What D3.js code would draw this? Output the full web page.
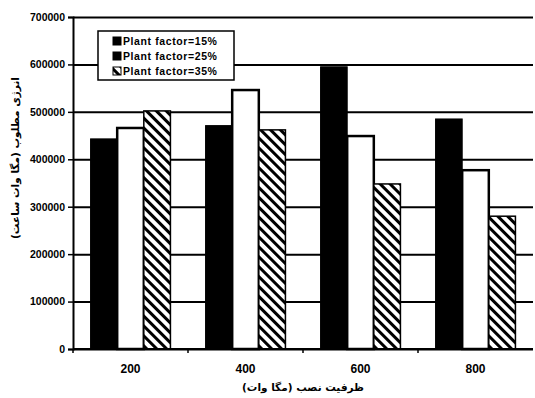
<!DOCTYPE html>
<html>
<head>
<meta charset="utf-8">
<script src="https://cdn.jsdelivr.net/npm/d3@7"></script>
<style>
  body { margin: 0; background: #fff; }
  svg { display: block; }
  .fa { font-family: "DejaVu Sans", sans-serif; font-weight: bold; direction: rtl; unicode-bidi: embed; }
</style>
</head>
<body>
<svg id="chart" width="535" height="398"></svg>
<script>
// Installed capacity (MW) and annual energy (MWh) for three plant factors
const categories = ["200", "400", "600", "800"];
const seriesNames = ["Plant factor=15%", "Plant factor=25%", "Plant factor=35%"];
const pf15 = [443000, 471000, 595000, 485000];
const pf25 = [466000, 546000, 449000, 377000];
const pf35 = [502000, 462000, 348000, 280000];
const yTicks = [0, 100000, 200000, 300000, 400000, 500000, 600000, 700000];
const xTitle = "ظرفیت نصب (مگا وات)";
const yTitle = "انرژی مطلوب (مگا وات ساعت)";

const seriesValues = [pf15, pf25, pf35];
const rows = categories.map((c, i) => ({
  cat: c,
  vals: seriesNames.map((s, k) => ({ key: s, k, value: seriesValues[k][i] }))
}));

const svg = d3.select("#chart");
const plotLeft = 73, plotRight = 533, plotTop = 17, plotBottom = 349;

const x0 = d3.scaleBand().domain(categories).range([plotLeft, plotRight]).paddingInner(0).paddingOuter(0);
const x1 = d3.scaleBand().domain(seriesNames).range([0, x0.bandwidth()]).paddingInner(0).paddingOuter(0.66);
const y = d3.scaleLinear().domain([0, 700000]).range([plotBottom, plotTop]);

// diagonal hatch for the 35% series
const defs = svg.append("defs");
const pat = defs.append("pattern")
  .attr("id", "hatch").attr("patternUnits", "userSpaceOnUse")
  .attr("width", 7).attr("height", 7)
  .attr("patternTransform", "rotate(-45)");
pat.append("rect").attr("width", 7).attr("height", 7).attr("fill", "#fff");
pat.append("rect").attr("x", 0).attr("y", 0).attr("width", 3).attr("height", 7).attr("fill", "#000");

// horizontal gridlines
svg.append("g")
  .attr("transform", `translate(${plotLeft},0)`)
  .call(d3.axisLeft(y).tickValues(yTicks).tickSize(-(plotRight - plotLeft)).tickFormat(""))
  .call(g => g.select(".domain").remove())
  .call(g => g.selectAll("line").attr("stroke", "#000").attr("stroke-width", 2));

const fills = ["#000", "#fff", "url(#hatch)"];
const strokeW = [1, 2.5, 1.5];

// bars
svg.append("g").selectAll("g")
  .data(rows).join("g")
  .attr("transform", d => `translate(${x0(d.cat)},0)`)
  .selectAll("rect")
  .data(d => d.vals).join("rect")
  .attr("x", d => x1(d.key))
  .attr("y", d => y(d.value))
  .attr("width", x1.bandwidth())
  .attr("height", d => y(0) - y(d.value))
  .attr("fill", d => fills[d.k])
  .attr("stroke", "#000")
  .attr("stroke-width", d => strokeW[d.k]);

// y axis
svg.append("g")
  .attr("transform", `translate(${plotLeft},0)`)
  .call(d3.axisLeft(y).tickValues(yTicks).tickSize(5).tickPadding(3).tickFormat(d3.format("d")))
  .call(g => g.select(".domain").attr("stroke", "#000").attr("stroke-width", 2))
  .call(g => g.selectAll("line").attr("stroke", "#000").attr("stroke-width", 1.5))
  .call(g => g.selectAll("text")
    .attr("font-family", "Liberation Sans, Arial, sans-serif")
    .attr("font-weight", "bold").attr("font-size", 10.5).attr("fill", "#000"));

// x axis: ticks sit between categories
const xAxis = svg.append("g").attr("transform", `translate(0,${plotBottom})`);
xAxis.append("line").attr("x1", plotLeft).attr("x2", plotRight).attr("stroke", "#000").attr("stroke-width", 2);
xAxis.selectAll(".sep")
  .data(categories).join("line")
  .attr("class", "sep")
  .attr("x1", d => x0(d)).attr("x2", d => x0(d))
  .attr("y1", 0).attr("y2", 4)
  .attr("stroke", "#000").attr("stroke-width", 1.5);
xAxis.selectAll("text")
  .data(categories).join("text")
  .attr("x", d => x0(d) + x0.bandwidth() / 2)
  .attr("y", 24)
  .attr("text-anchor", "middle")
  .attr("font-family", "Liberation Sans, Arial, sans-serif")
  .attr("font-weight", "bold").attr("font-size", 12)
  .text(d => d);

// axis titles
svg.append("text").attr("class", "fa")
  .attr("x", 303).attr("y", 391)
  .attr("text-anchor", "middle").attr("font-size", 10.5)
  .text(xTitle);
svg.append("text").attr("class", "fa")
  .attr("transform", "translate(19,158) rotate(-90)")
  .attr("text-anchor", "middle").attr("font-size", 10.5)
  .text(yTitle);

// legend
const lg = svg.append("g");
lg.append("rect").attr("x", 98).attr("y", 31).attr("width", 136).attr("height", 49)
  .attr("fill", "#fff").attr("stroke", "#000").attr("stroke-width", 1.5);
const legendFill = ["#000", "#000", "url(#hatch)"];
const item = lg.selectAll(".item").data(seriesNames).join("g")
  .attr("class", "item")
  .attr("transform", (d, i) => `translate(113,${41 + i * 15})`);
item.append("rect").attr("x", 0).attr("y", -4).attr("width", 8).attr("height", 8)
  .attr("fill", (d, i) => legendFill[i]).attr("stroke", "#000").attr("stroke-width", 1);
item.append("text").attr("x", 10).attr("y", 4)
  .attr("font-family", "Liberation Sans, Arial, sans-serif")
  .attr("font-weight", "bold").attr("font-size", 10.5)
  .attr("letter-spacing", 0.6)
  .text(d => d);
</script>
</body>
</html>
